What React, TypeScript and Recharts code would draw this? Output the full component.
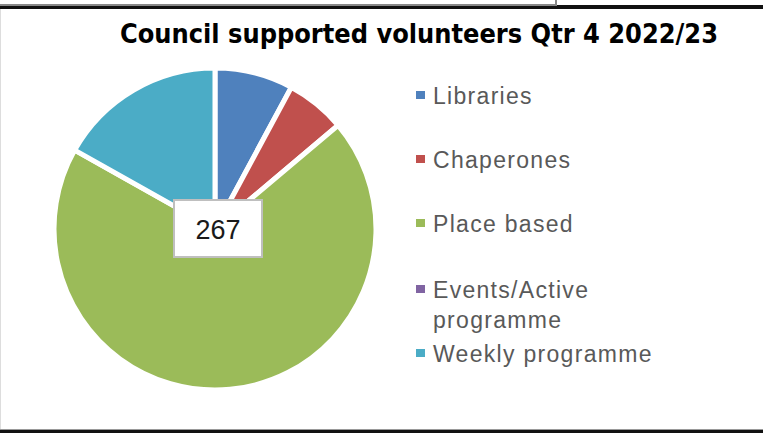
import { PieChart, Pie, Cell } from 'recharts';

const categories = ['Libraries', 'Chaperones', 'Place based', 'Events/Active programme', 'Weekly programme'];
const volunteers = [21, 16, 185, 0, 45];
const colors = ['#4F81BD', '#C0504D', '#9BBB59', '#8064A2', '#4BACC6'];
const legendLines = [['Libraries'], ['Chaperones'], ['Place based'], ['Events/Active', 'programme'], ['Weekly programme']];
const title = 'Council supported volunteers Qtr 4 2022/23';

const data = categories.map((name, i) => ({ name, value: volunteers[i] }));
const total = volunteers.reduce((a, b) => a + b, 0);

// pie centre in page pixels (chart has a 5px default margin)
const CX = 215;
const CY = 229;
const legendY = [96, 160, 224, 290, 354];

export default function App() {
  return (
    <div
      style={{
        position: 'absolute',
        left: 0,
        top: 0,
        width: 763,
        height: 433,
        background: '#fff',
        overflow: 'hidden',
      }}
    >
      {/* frame bits from the screenshot */}
      <div style={{ position: 'absolute', left: 0, top: 5, width: 763, height: 4, background: '#111' }} />
      <div style={{ position: 'absolute', left: 0, top: 4, width: 556, height: 2, background: '#888' }} />
      <div style={{ position: 'absolute', left: 555, top: 0, width: 2, height: 6, background: '#888' }} />
      <div style={{ position: 'absolute', left: 0, top: 9, width: 1, height: 420, background: '#ddd' }} />
      <div style={{ position: 'absolute', left: 0, top: 429, width: 763, height: 1, background: '#999' }} />
      <div style={{ position: 'absolute', left: 0, top: 430, width: 763, height: 3, background: '#111' }} />

      <PieChart width={763} height={433} style={{ position: 'absolute', left: 0, top: 0 }}>
        <Pie
          data={data}
          dataKey="value"
          nameKey="name"
          cx={CX - 5}
          cy={CY - 5}
          outerRadius={161}
          startAngle={90}
          endAngle={-270}
          stroke="#fff"
          strokeWidth={5}
          isAnimationActive={false}
        >
          {data.map((d, i) => (
            <Cell key={d.name} fill={colors[i]} />
          ))}
        </Pie>
      </PieChart>

      <svg width={763} height={433} style={{ position: 'absolute', left: 0, top: 0, pointerEvents: 'none' }}>
        <text
          x={120}
          y={43}
          fontSize={27}
          fontWeight="bold"
          fill="#000"
          textLength={598}
          lengthAdjust="spacingAndGlyphs"
          fontFamily="'Liberation Sans Narrow', 'DejaVu Sans Condensed', 'Liberation Sans', sans-serif"
        >
          {title}
        </text>

        <rect x={CX - 41} y={CY - 29} width={88} height={57} fill="#fff" stroke="#BFBFBF" strokeWidth={2} />
        <text
          x={CX + 3}
          y={CY + 10}
          textAnchor="middle"
          fontSize={27}
          fill="#1a1a1a"
          fontFamily="'Liberation Sans', Arial, sans-serif"
        >
          {total}
        </text>

        {legendLines.map((lines, i) => (
          <g key={i}>
            <rect x={416} y={legendY[i] - 5} width={9} height={8} fill={colors[i]} />
            {lines.map((ln, j) => (
              <text
                key={j}
                x={433}
                y={legendY[i] + 8 + j * 30}
                fontSize={23}
                fill="#595959"
                fontFamily="'Liberation Sans', Arial, sans-serif"
                style={{ letterSpacing: 1.3 }}
              >
                {ln}
              </text>
            ))}
          </g>
        ))}
      </svg>
    </div>
  );
}
